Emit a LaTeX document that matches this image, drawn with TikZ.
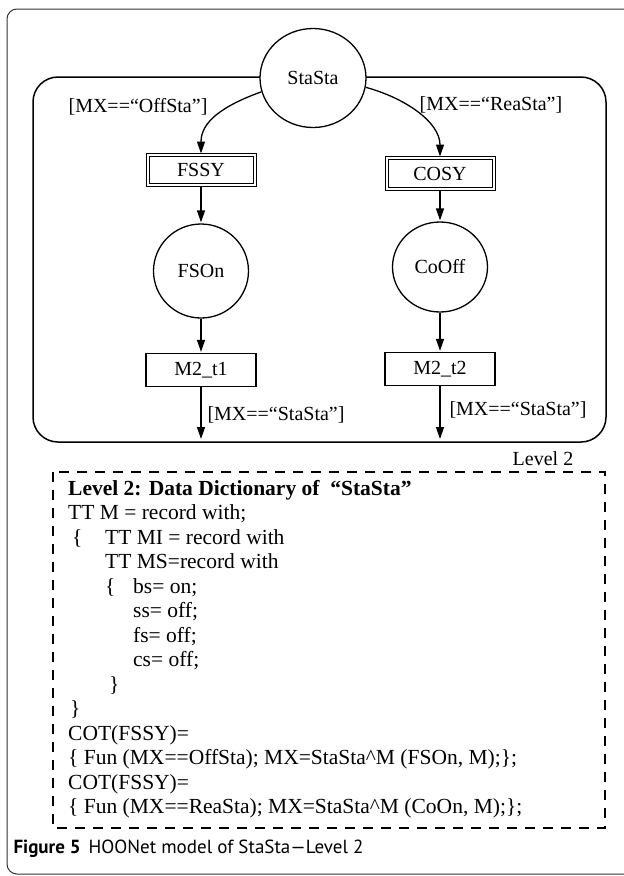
\documentclass[tikz,border=0pt]{standalone}
\usepackage{fontspec}
\setmainfont{Liberation Serif}
\setsansfont{PT Sans}
\usepackage{tikz}
\usetikzlibrary{shapes,arrows.meta,positioning}

\begin{document}
\begin{tikzpicture}[
    x=1pt, y=-1pt,
    font=\fontsize{20}{24}\selectfont,
    place/.style={
        draw,
        ellipse,
        fill=white,
        line width=1.3pt,
        inner sep=0pt,
        minimum width=95pt,
        minimum height=94pt
    },
    superbox/.style={
        draw,
        double,
        double distance=2pt,
        line width=1pt,
        fill=white,
        minimum width=107pt,
        minimum height=30pt,
        inner sep=0pt
    },
    trans/.style={
        draw,
        line width=1.3pt,
        fill=white,
        minimum width=110pt,
        minimum height=33pt,
        inner sep=0pt
    },
    arrow/.style={
        -{Triangle[length=12pt,width=8pt]},
        line width=1.3pt,
        shorten >=1pt
    },
    dictline/.style={
        anchor=base west,
        inner sep=0pt,
        font=\fontsize{21.5}{24}\selectfont
    }
]
\useasboundingbox (0,0) rectangle (624,876);
% Page frame
\begin{scope}
    \clip (0,0) rectangle (624,876);
    \draw[line width=1pt, black!80, rounded corners=10pt] (7,9) rectangle (660,874);
\end{scope}
% Level 2 boundary
\draw[line width=1.5pt, rounded corners=25pt] (33,77) rectangle (606,442);
% Places and transitions
\node[place, minimum width=106pt, minimum height=99pt] at (313,78) (sta) {StaSta};
\node[superbox] at (201,170) (fssy) {FSSY};
\node[superbox, minimum height=31pt] at (440,173.5) (cosy) {COSY};
\node[place] at (201,271) (fson) {FSOn};
\node[place, minimum height=90pt] at (440,267) (cooff) {CoOff};
\node[trans] at (201,370) (t1) {M2\_t1};
\node[trans] at (440,369) (t2) {M2\_t2};
\coordinate (e1) at (201,440);
\coordinate (e2) at (440,440);
% Arcs
\draw[arrow] (sta.195) .. controls (222,106) and (201,122) .. (fssy.north);
\draw[arrow] (sta.-10) .. controls (405,98) and (440,122) .. (cosy.north);
\draw[arrow] (fssy.south) -- (fson.north);
\draw[arrow] (cosy.south) -- (cooff.north);
\draw[arrow] (fson.south) -- (t1.north);
\draw[arrow] (cooff.south) -- (t2.north);
\draw[arrow] (t1.south) -- (e1);
\draw[arrow] (t2.south) -- (e2);
% Guards
\node at (138,107) (offg) {[MX==“OffSta”]};
\node at (491,105) (reag) {[MX==“ReaSta”]};
\node[anchor=west] at (204,415) (sg1) {[MX==“StaSta”]};
\node[anchor=west] at (446,410) (sg2) {[MX==“StaSta”]};
\node at (543,459) (lvl) {Level 2};
% Data dictionary
\draw[line width=1.5pt, dash pattern=on 10pt off 8pt] (53,472) rectangle (605,828);
\foreach \dx/\txt [count=\i] in {
    68/{\textbf{Level 2: Data Dictionary of\ \ “StaSta”}},
    68/{TT M = record with;},
    72/{\makebox[33pt][l]{\{}TT MI = record with},
    105/{TT MS=record with},
    105/{\makebox[28pt][l]{\{}bs= on;},
    133/{ss= off;},
    133/{fs= off;},
    133/{cs= off;},
    109/{\}},
    70/{\}},
    68/{COT(FSSY)=},
    68/{\{ Fun (MX==OffSta); MX=StaSta\textasciicircum M (FSOn, M);\};},
    68/{COT(FSSY)=},
    68/{\{ Fun (MX==ReaSta); MX=StaSta\textasciicircum M (CoOn, M);\};}} {
    \node[dictline] at (\dx,{495+24.5*(\i-1)}) (d\i) {\txt};
}
% Caption
\node[anchor=west, font=\sffamily\fontsize{19}{22}\selectfont] at (10,849) (cap)
    {\textbf{Figure 5}\hspace{8pt}HOONet model of StaSta—Level 2};
\end{tikzpicture}
\end{document}
